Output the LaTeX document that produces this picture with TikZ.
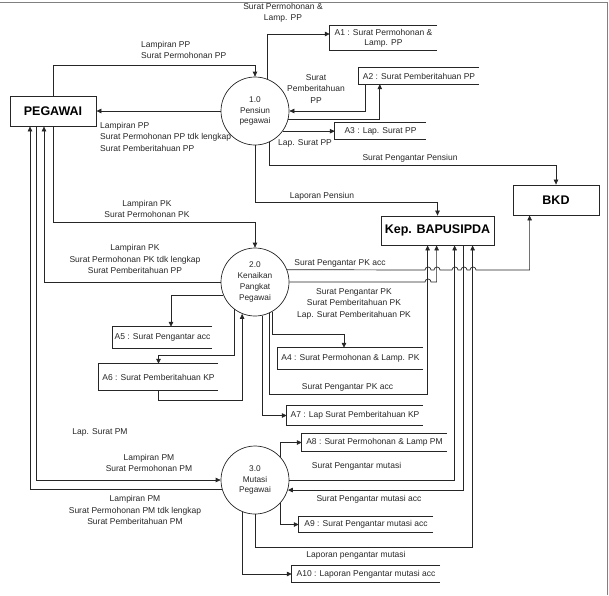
\documentclass[tikz,border=0pt]{standalone}
\usepackage{fontspec}
\setmainfont{Liberation Sans}
\usetikzlibrary{arrows.meta,calc}
\begin{document}
\begin{tikzpicture}[x=1pt,y=-1pt,
  conn/.style={draw=black!85, line width=0.7pt},
  flow/.style={conn, -{Triangle[length=5pt,width=4.5pt]}},
  entity/.style={draw=black!85, line width=0.8pt, inner sep=0pt, font=\fontsize{12.5}{14}\selectfont\bfseries},
  proc/.style={circle, draw=black!85, line width=0.7pt, minimum size=68pt, inner sep=0pt, align=center, text=black!85, font=\fontsize{8.3}{10.7}\selectfont},
  store/.style={inner sep=0pt, align=center, text=black!85, font=\fontsize{8.5}{10}\selectfont},
  lbl/.style={inner sep=0pt, align=center, text=black!85, font=\fontsize{8.5}{11.5}\selectfont},
  lbll/.style={lbl, align=left, anchor=west}
]
\useasboundingbox (0,0) rectangle (609,595);
\draw[black!50, line width=0.8pt] (0,2.5) -- (607,2.5) -- (607,595);

% external entities
\node[entity, minimum width=86pt, minimum height=30pt] (peg) at (53,111) {PEGAWAI};
\node[entity, minimum width=86pt, minimum height=30pt] (bkd) at (556,200) {BKD};
\node[entity, minimum width=113pt, minimum height=29pt] (kep) at (437.5,230.5) {Kep. BAPUSIPDA};

% processes
\node[proc] (p1) at (255,111) {1.0\\Pensiun\\pegawai};
\node[proc] (p2) at (255,282) {2.0\\Kenaikan\\Pangkat\\Pegawai};
\node[proc] (p3) at (255,480) {3.0\\Mutasi\\Pegawai};

% data stores
\node[store, minimum width=107pt, minimum height=24pt] (a1) at (383.5,38) {A1 : Surat Permohonan \&\\Lamp. PP};
\node[store, minimum width=120pt, minimum height=16pt] (a2) at (419,76) {A2 : Surat Pemberitahuan PP};
\node[store, minimum width=91pt, minimum height=16pt] (a3) at (380.5,131) {A3 : Lap. Surat PP};
\node[store, minimum width=145pt, minimum height=21pt] (a4) at (350.5,358.5) {A4 : Surat Permohonan \& Lamp. PK};
\node[store, minimum width=99pt, minimum height=21pt] (a5) at (162.5,337.5) {A5 : Surat Pengantar acc};
\node[store, minimum width=119pt, minimum height=26pt] (a6) at (158.5,377) {A6 : Surat Pemberitahuan KP};
\node[store, minimum width=136pt, minimum height=19pt] (a7) at (355,415.5) {A7 : Lap Surat Pemberitahuan KP};
\node[store, minimum width=145pt, minimum height=17pt] (a8) at (374.5,442.5) {A8 : Surat Permohonan \& Lamp PM};
\node[store, minimum width=134pt, minimum height=15pt] (a9) at (366,524.5) {A9 : Surat Pengantar mutasi acc};
\node[store, minimum width=148pt, minimum height=16pt] (a10) at (366,574) {A10 : Laporan Pengantar mutasi acc};
\foreach \s in {a1,a2,a3,a4,a5,a6,a7,a8,a9,a10}
  \draw[conn] (\s.north east) -- (\s.north west) -- (\s.south west) -- (\s.south east);

% ports on Kep. BAPUSIPDA
\coordinate (k1) at ([xshift=47pt]kep.south west);
\coordinate (k2) at ([xshift=56pt]kep.south west);
\coordinate (k3) at ([xshift=74pt]kep.south west);
\coordinate (k4) at ([xshift=83pt]kep.south west);
\coordinate (k5) at ([xshift=92pt]kep.south west);

% process 1 flows
\draw[flow] (peg.north) -- ++(0,-30) -| (p1.north);
\draw[flow] (p1.west) -- (peg.east);
\draw[flow] (p1.69) |- ([yshift=4pt]a1.west);
\draw[flow] ([xshift=7pt]a2.south west) |- (p1.east);
\draw[flow] (p1.-14) -| ([xshift=21pt]a2.south west);
\draw[flow] (p1.-36) -- (p1.-36 -| a3.west);
\draw[flow] (p1.-66) |- ([yshift=19pt]bkd.north) -- (bkd.north);
\draw[flow] (p1.south) |- ([yshift=13pt]kep.north) -- (kep.north);

% process 2 flows
\draw[flow] (peg.south) |- ([yshift=25pt]p2.north) -- (p2.north);
\draw[flow] (p2.west) -| ([xshift=-9pt]peg.south);
\draw[flow] (p2.202) -| ([xshift=8.5pt]a5.north);
\draw[flow] (p2.232) |- ([yshift=8pt]a6.north) -- (a6.north);
\draw[flow] (a6.south) -- ++(0,10) -| (p2.248);
\draw[flow] (p2.-60) |- ([xshift=-6.5pt,yshift=13pt]a4.north) -- ([xshift=-6.5pt]a4.north);
\draw[flow] (p2.-66) |- ([yshift=-149pt]k1) -- (k1);
\draw[flow] (p2.-78) |- (a7.west);
\draw[flow] (p2.21) -- (425,270) arc[start angle=180,end angle=0,radius=3pt]
  -- (434,270) arc[start angle=180,end angle=0,radius=3pt]
  -- (452,270) arc[start angle=180,end angle=0,radius=3pt]
  -- (461,270) arc[start angle=180,end angle=0,radius=3pt]
  -- (470,270) arc[start angle=180,end angle=0,radius=3pt]
  -| ([xshift=17pt]bkd.south west);
\draw[flow] (p2.east) -- (425,282) arc[start angle=180,end angle=0,radius=3pt] -| (k2);

% process 3 flows
\draw[flow] ([xshift=-17pt]peg.south) |- (p3.west);
\draw[flow] (p3.195) -| ([xshift=-23pt]peg.south);
\draw[flow] (p3.43) |- (a8.west);
\draw[flow] (p3.east) -| (k3);
\draw[flow] (k4) |- (p3.-17);
\draw[flow] (p3.-43) |- (a9.west);
\draw[flow] (p3.south) -- ++(0,33) -| (k5);
\draw[flow] (p3.-111) |- (a10.west);

% labels
\node[lbl] (l1) at (283,13) {Surat Permohonan \&\\Lamp. PP};
\node[lbll] (l2) at (141,50) {Lampiran PP\\Surat Permohonan PP};
\node[lbll] (l3) at (100,136.5) {Lampiran PP\\Surat Permohonan PP tdk lengkap\\Surat Pemberitahuan PP};
\node[lbl] (l4) at (316,89) {Surat\\Pemberitahuan\\PP};
\node[lbl] (l5) at (305,143) {Lap. Surat PP};
\node[lbl] (l6) at (410,158) {Surat Pengantar Pensiun};
\node[lbl] (l7) at (322,196) {Laporan Pensiun};
\node[lbl] (l8) at (147,209) {Lampiran PK\\Surat Permohonan PK};
\node[lbl] (l9) at (135,259) {Lampiran PK\\Surat Permohonan PK tdk lengkap\\Surat Pemberitahuan PP};
\node[lbl] (l10) at (340,263) {Surat Pengantar PK acc};
\node[lbl] (l11) at (354,303.5) {Surat Pengantar PK\\Surat Pemberitahuan PK\\Lap. Surat Pemberitahuan PK};
\node[lbl] (l12) at (347.5,387) {Surat Pengantar PK acc};
\node[lbl] (l13) at (100,432) {Lap. Surat PM};
\node[lbl] (l14) at (149,463) {Lampiran PM\\Surat Permohonan PM};
\node[lbl] (l15) at (135,510) {Lampiran PM\\Surat Permohonan PM tdk lengkap\\Surat Pemberitahuan PM};
\node[lbl] (l16) at (356.5,466) {Surat Pengantar mutasi};
\node[lbl] (l17) at (369,499) {Surat Pengantar mutasi acc};
\node[lbl] (l18) at (356,555) {Laporan pengantar mutasi};
\end{tikzpicture}
\end{document}
